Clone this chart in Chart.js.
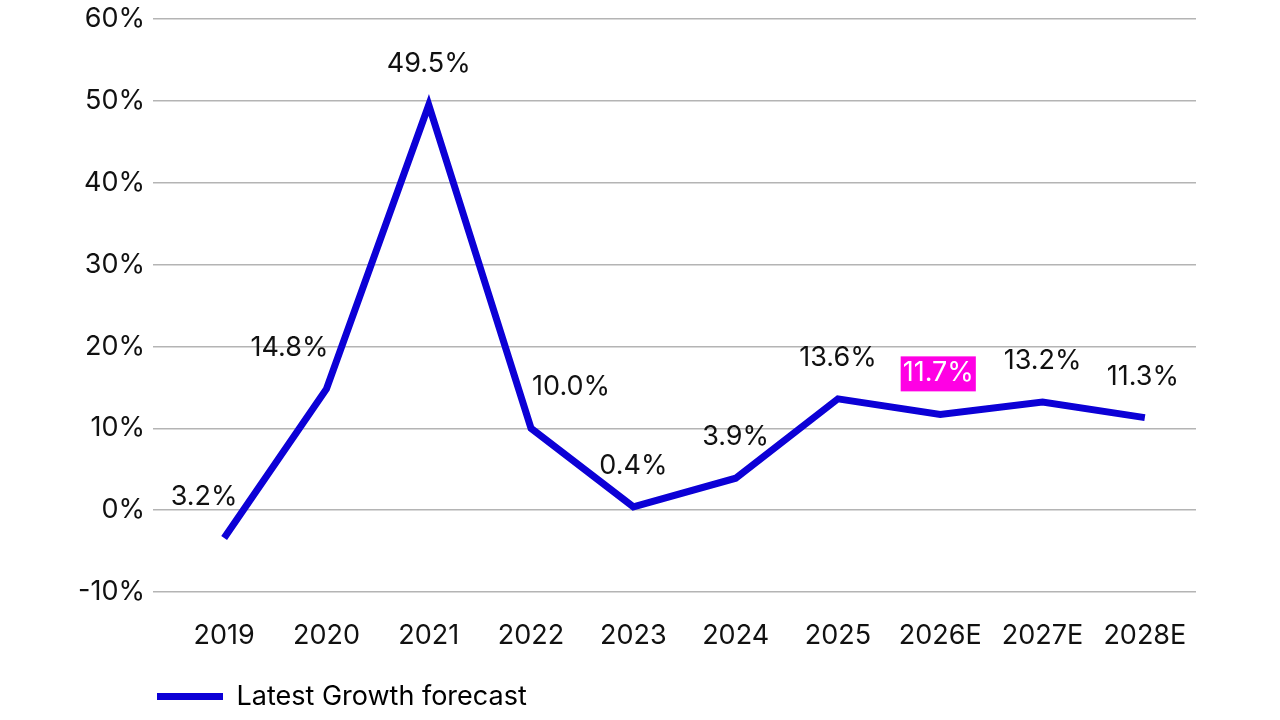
<!DOCTYPE html>
<html>
<head>
<meta charset="utf-8">
<script src="https://cdn.jsdelivr.net/npm/chart.js@4.4.1/dist/chart.umd.min.js"></script>
<style>
  html, body { margin: 0; padding: 0; background: #fff; }
  #wrap { width: 1280px; height: 720px; }
</style>
</head>
<body>
<div id="wrap"><canvas id="myChart" width="1280" height="720"></canvas></div>
<script>
const years = ['2019', '2020', '2021', '2022', '2023', '2024', '2025', '2026E', '2027E', '2028E'];
const growth = [-3.4, 14.8, 49.5, 10.0, 0.4, 3.9, 13.6, 11.7, 13.2, 11.3];
const pointLabels = ['3.2%', '14.8%', '49.5%', '10.0%', '0.4%', '3.9%', '13.6%', '11.7%', '13.2%', '11.3%'];
const yMin = -10;
const yMax = 60;
const yStep = 10;

const BLUE = '#0c00d6';
const PINK = '#ff00e4';
const FONT = 'Inter, "Noto Sans", sans-serif';
const FONT_SIZE = 27;

// label nudges so text sits beside the steep parts of the line
const labelShiftX = [-20, -37, 0, 40, 0, 0, 0, -2, 0, -2];
const highlighted = 7;

const valueLabels = {
    id: 'valueLabels',
    afterDatasetsDraw(chart) {
        const ctx = chart.ctx;
        const meta = chart.getDatasetMeta(0);
        ctx.save();
        ctx.font = FONT_SIZE + 'px ' + FONT;
        ctx.textAlign = 'center';
        ctx.textBaseline = 'middle';
        meta.data.forEach((pt, i) => {
            const x = pt.x + labelShiftX[i];
            const y = pt.y - 41;
            const txt = pointLabels[i];
            if (i === highlighted) {
                const w = ctx.measureText(txt).width + 4;
                ctx.fillStyle = PINK;
                ctx.fillRect(x - w / 2, y - 17, w, 35);
                ctx.fillStyle = '#ffffff';
            } else {
                ctx.fillStyle = '#111111';
            }
            ctx.fillText(txt, x, y);
        });
        ctx.restore();
    }
};

// y axis box is narrow so the legend lines up under the tick labels
const yAxisDraw = {
    id: 'yAxisLabels',
    afterDraw(chart) {
        const y = chart.scales.y;
        const ctx = chart.ctx;
        ctx.save();
        ctx.font = FONT_SIZE + 'px ' + FONT;
        ctx.fillStyle = '#111111';
        ctx.textAlign = 'right';
        ctx.textBaseline = 'middle';
        y.ticks.forEach(t => {
            ctx.fillText(t.value + '%', y.right - 28, y.getPixelForValue(t.value));
        });
        ctx.restore();
    }
};

new Chart(document.getElementById('myChart'), {
    type: 'line',
    data: {
        labels: years,
        datasets: [{
            label: 'Latest Growth forecast',
            data: growth,
            borderColor: BLUE,
            backgroundColor: BLUE,
            borderWidth: 7,
            borderJoinStyle: 'miter',
            pointRadius: 0,
            tension: 0
        }]
    },
    options: {
        responsive: false,
        animation: false,
        layout: { padding: { left: 147, right: 84, top: 19, bottom: 0 } },
        plugins: {
            tooltip: { enabled: false },
            legend: {
                position: 'bottom',
                align: 'start',
                labels: {
                    color: '#111111',
                    font: { size: FONT_SIZE, family: FONT },
                    boxWidth: 66,
                    boxHeight: 7,
                    padding: 10,
                    generateLabels: () => [{
                        text: 'Latest Growth forecast',
                        fillStyle: BLUE,
                        strokeStyle: BLUE,
                        lineWidth: 0,
                        datasetIndex: 0
                    }]
                }
            }
        },
        scales: {
            x: {
                offset: true,
                grid: { display: false },
                border: { display: false },
                ticks: { color: '#111111', font: { size: FONT_SIZE, family: FONT }, padding: 20 },
                afterFit: (scale) => { scale.height = 81; }
            },
            y: {
                min: yMin,
                max: yMax,
                afterFit: (scale) => { scale.width = 26; },
                border: { display: false },
                grid: { color: '#b4b4b4', lineWidth: 1.5, tickLength: 20 },
                ticks: {
                    stepSize: yStep,
                    color: 'rgba(0,0,0,0)',
                    font: { size: 2, family: FONT },
                    padding: 10,
                    callback: (v) => v + '%'
                }
            }
        }
    },
    plugins: [valueLabels, yAxisDraw]
});
</script>
</body>
</html>
